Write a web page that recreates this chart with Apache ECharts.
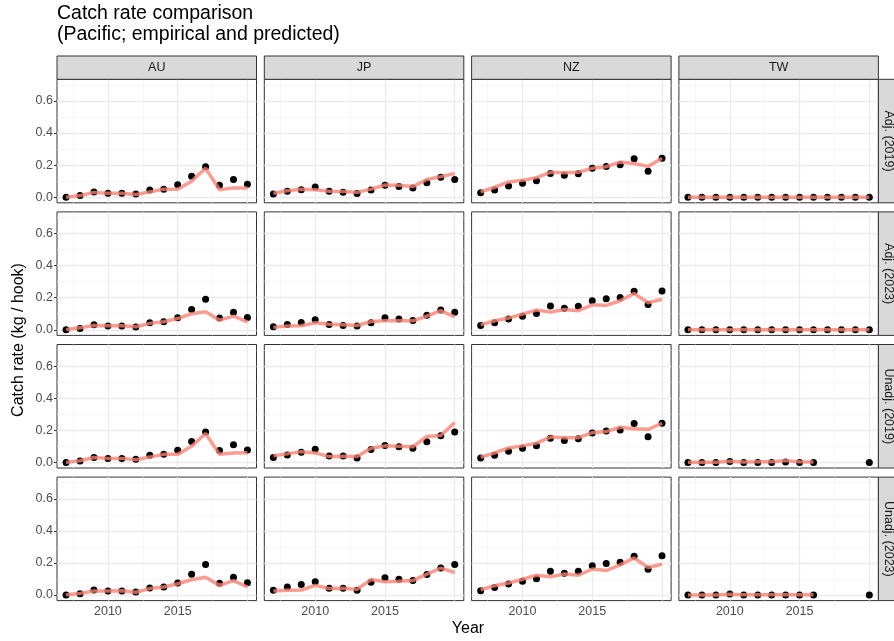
<!DOCTYPE html>
<html>
<head>
<meta charset="utf-8">
<script src="https://cdn.jsdelivr.net/npm/echarts@6/dist/echarts.min.js"></script>
<style>
  html, body { margin: 0; padding: 0; background: #fff; }
  #main { width: 894px; height: 641px; }
</style>
</head>
<body>
<div id="main"></div>
<script>
// facet labels
var fleets = ['AU', 'JP', 'NZ', 'TW'];
var models = ['Adj. (2019)', 'Adj. (2023)', 'Unadj. (2019)', 'Unadj. (2023)'];
var years = [2007, 2008, 2009, 2010, 2011, 2012, 2013, 2014, 2015, 2016, 2017, 2018, 2019, 2020];
var xTicks = [2010, 2015];
var yTicks = [0, 0.2, 0.4, 0.6];

// Adj. (2019)
var auAdj19Obs  = [0.000, 0.010, 0.033, 0.025, 0.025, 0.020, 0.045, 0.050, 0.078, 0.130, 0.190, 0.074, 0.110, 0.080];
var auAdj19Pred = [0.000, 0.010, 0.030, 0.025, 0.025, 0.017, 0.033, 0.050, 0.050, 0.100, 0.180, 0.047, 0.058, 0.058];
var jpAdj19Obs  = [0.020, 0.037, 0.047, 0.064, 0.037, 0.030, 0.023, 0.045, 0.074, 0.066, 0.058, 0.090, 0.124, 0.110];
var jpAdj19Pred = [0.025, 0.040, 0.050, 0.047, 0.037, 0.035, 0.030, 0.050, 0.076, 0.074, 0.066, 0.110, 0.128, 0.148];
var nzAdj19Obs  = [0.027, 0.045, 0.070, 0.087, 0.103, 0.148, 0.136, 0.146, 0.181, 0.192, 0.202, 0.239, 0.161, 0.243];
var nzAdj19Pred = [0.033, 0.062, 0.095, 0.105, 0.122, 0.155, 0.153, 0.155, 0.181, 0.190, 0.219, 0.210, 0.192, 0.243];
var twAdj19Obs  = [0, 0, 0, 0, 0, 0, 0, 0, 0, 0, 0, 0, 0, 0];
var twAdj19Pred = [0, 0, 0, 0, 0, 0, 0, 0, 0, 0, 0, 0, 0, 0];

// Adj. (2023)
var auAdj23Obs  = [0.000, 0.008, 0.031, 0.023, 0.023, 0.017, 0.044, 0.050, 0.075, 0.127, 0.190, 0.073, 0.110, 0.077];
var auAdj23Pred = [0.002, 0.012, 0.027, 0.025, 0.025, 0.019, 0.040, 0.050, 0.070, 0.100, 0.112, 0.060, 0.085, 0.050];
var jpAdj23Obs  = [0.019, 0.033, 0.046, 0.063, 0.033, 0.027, 0.023, 0.044, 0.075, 0.067, 0.058, 0.090, 0.123, 0.110];
var jpAdj23Pred = [0.015, 0.023, 0.025, 0.044, 0.035, 0.031, 0.027, 0.052, 0.056, 0.056, 0.056, 0.085, 0.119, 0.081];
var nzAdj23Obs  = [0.027, 0.044, 0.067, 0.085, 0.102, 0.148, 0.135, 0.146, 0.181, 0.194, 0.202, 0.240, 0.158, 0.242];
var nzAdj23Pred = [0.031, 0.056, 0.073, 0.098, 0.123, 0.110, 0.127, 0.119, 0.156, 0.152, 0.181, 0.227, 0.169, 0.190];
var twAdj23Obs  = [0, 0, 0, 0, 0, 0, 0, 0, 0, 0, 0, 0, 0, 0];
var twAdj23Pred = [0, 0, 0, 0, 0, 0, 0, 0, 0, 0, 0, 0, 0, 0];

// Unadj. (2019)
var auUn19Obs  = [0.000, 0.008, 0.031, 0.025, 0.025, 0.019, 0.044, 0.050, 0.076, 0.130, 0.190, 0.074, 0.110, 0.077];
var auUn19Pred = [0.000, 0.010, 0.030, 0.025, 0.025, 0.017, 0.033, 0.050, 0.050, 0.100, 0.180, 0.050, 0.058, 0.060];
var jpUn19Obs  = [0.030, 0.046, 0.063, 0.082, 0.040, 0.040, 0.027, 0.080, 0.105, 0.097, 0.088, 0.128, 0.166, 0.190];
var jpUn19Pred = [0.042, 0.053, 0.067, 0.059, 0.036, 0.038, 0.036, 0.088, 0.103, 0.100, 0.097, 0.162, 0.168, 0.248];
var nzUn19Obs  = [0.027, 0.044, 0.070, 0.088, 0.103, 0.150, 0.137, 0.147, 0.183, 0.196, 0.202, 0.242, 0.160, 0.244];
var nzUn19Pred = [0.032, 0.059, 0.090, 0.103, 0.120, 0.158, 0.154, 0.154, 0.185, 0.192, 0.219, 0.210, 0.206, 0.244];
var twUn19Obs  = [0, 0, 0, 0.006, 0, 0, 0, 0.002, 0, 0, null, null, null, 0];
var twUn19Pred = [0.001, 0.001, 0.001, 0.007, 0.003, 0.004, 0.004, 0.011, 0.004, 0.002, null, null, null, null];

// Unadj. (2023)
var auUn23Obs  = [0.000, 0.008, 0.031, 0.025, 0.025, 0.019, 0.044, 0.050, 0.075, 0.130, 0.190, 0.073, 0.110, 0.077];
var auUn23Pred = [0.002, 0.010, 0.025, 0.025, 0.027, 0.017, 0.040, 0.050, 0.070, 0.095, 0.110, 0.060, 0.090, 0.050];
var jpUn23Obs  = [0.030, 0.050, 0.065, 0.083, 0.042, 0.042, 0.030, 0.080, 0.108, 0.098, 0.090, 0.127, 0.169, 0.190];
var jpUn23Pred = [0.025, 0.030, 0.031, 0.060, 0.040, 0.042, 0.035, 0.096, 0.083, 0.085, 0.090, 0.130, 0.167, 0.140];
var nzUn23Obs  = [0.027, 0.046, 0.069, 0.085, 0.102, 0.148, 0.135, 0.148, 0.183, 0.196, 0.204, 0.242, 0.160, 0.244];
var nzUn23Pred = [0.033, 0.058, 0.075, 0.098, 0.123, 0.113, 0.131, 0.123, 0.162, 0.152, 0.188, 0.231, 0.171, 0.192];
var twUn23Obs  = [0, 0, 0, 0.006, 0, 0, 0, 0, 0, 0, null, null, null, 0];
var twUn23Pred = [0, 0, 0, 0.004, 0.001, 0.001, 0.001, 0.001, 0.001, 0.001, null, null, null, null];

// panels[row][col] = [observed, predicted]
var panels = [
  [[auAdj19Obs, auAdj19Pred], [jpAdj19Obs, jpAdj19Pred], [nzAdj19Obs, nzAdj19Pred], [twAdj19Obs, twAdj19Pred]],
  [[auAdj23Obs, auAdj23Pred], [jpAdj23Obs, jpAdj23Pred], [nzAdj23Obs, nzAdj23Pred], [twAdj23Obs, twAdj23Pred]],
  [[auUn19Obs, auUn19Pred], [jpUn19Obs, jpUn19Pred], [nzUn19Obs, nzUn19Pred], [twUn19Obs, twUn19Pred]],
  [[auUn23Obs, auUn23Pred], [jpUn23Obs, jpUn23Pred], [nzUn23Obs, nzUn23Pred], [twUn23Obs, twUn23Pred]]
];

var FONT = '"Liberation Sans", Arial, Helvetica, sans-serif';
var left0 = 57, top0 = 79.3, colStep = 207.3, rowStep = 132.6;
var pw = 199.5, ph = 123.5;

function pairs(vals) {
  var out = [];
  for (var i = 0; i < years.length; i++) {
    if (vals[i] !== null) out.push([years[i], vals[i]]);
  }
  return out;
}

// background grid lines drawn as mark lines so they sit on the axis scale
var majorStyle = { color: '#EBEBEB', width: 1.3, type: 'solid' };
var minorStyle = { color: '#F4F4F4', width: 0.7, type: 'solid' };
var gridLineData = [];
[2007.5, 2012.5, 2017.5].forEach(function (v) { gridLineData.push({ xAxis: v, lineStyle: minorStyle }); });
[0.1, 0.3, 0.5, 0.7].forEach(function (v) { gridLineData.push({ yAxis: v, lineStyle: minorStyle }); });
[2010, 2015, 2020].forEach(function (v) { gridLineData.push({ xAxis: v, lineStyle: majorStyle }); });
[0, 0.2, 0.4, 0.6].forEach(function (v) { gridLineData.push({ yAxis: v, lineStyle: majorStyle }); });

var grids = [], xAxes = [], yAxes = [], series = [], graphics = [];

for (var r = 0; r < 4; r++) {
  for (var c = 0; c < 4; c++) {
    var k = r * 4 + c;
    var gx = left0 + c * colStep, gy = top0 + r * rowStep;
    grids.push({
      left: gx, top: gy, width: pw, height: ph,
      show: true, backgroundColor: '#fff', borderColor: '#333333', borderWidth: 1
    });
    var bottomRow = (r === 3), firstCol = (c === 0);
    xAxes.push({
      gridIndex: k, type: 'value', min: 2006.35, max: 2020.65,
      axisLine: { show: false },
      splitLine: { show: false },
      axisTick: { show: bottomRow, customValues: xTicks, length: 3, lineStyle: { color: '#333333' } },
      axisLabel: {
        show: bottomRow, customValues: xTicks, margin: 4,
        color: '#4D4D4D', fontSize: 12.5, fontFamily: FONT,
        formatter: function (v) { return String(v); }
      }
    });
    yAxes.push({
      gridIndex: k, type: 'value', min: -0.035, max: 0.735,
      axisLine: { show: false },
      splitLine: { show: false },
      axisTick: { show: firstCol, customValues: yTicks, length: 3, lineStyle: { color: '#333333' } },
      axisLabel: {
        show: firstCol, customValues: yTicks, margin: 4,
        color: '#4D4D4D', fontSize: 12.5, fontFamily: FONT,
        formatter: function (v) { return v.toFixed(1); }
      }
    });

    series.push({
      type: 'line', xAxisIndex: k, yAxisIndex: k, data: [], z: 1, silent: true,
      markLine: { silent: true, z: 1, symbol: 'none', label: { show: false }, animation: false, data: gridLineData }
    });
    series.push({
      type: 'scatter', xAxisIndex: k, yAxisIndex: k, z: 3,
      symbolSize: 7, itemStyle: { color: '#000', opacity: 1 },
      data: pairs(panels[r][c][0])
    });
    series.push({
      type: 'line', xAxisIndex: k, yAxisIndex: k, z: 4,
      showSymbol: false, symbol: 'none',
      lineStyle: { color: '#FA8072', width: 3.5, opacity: 0.78 },
      data: pairs(panels[r][c][1])
    });
  }
}

// column strips
for (var c2 = 0; c2 < 4; c2++) {
  var sx = left0 + c2 * colStep;
  graphics.push({ type: 'rect', shape: { x: sx, y: 56, width: pw, height: top0 - 56 },
    style: { fill: '#D9D9D9', stroke: '#333333', lineWidth: 1 }, z: 10 });
  graphics.push({ type: 'text', x: sx + pw / 2, y: 68, z: 11,
    style: { text: fleets[c2], textAlign: 'center', textVerticalAlign: 'middle',
      fill: '#1A1A1A', font: '12.5px ' + FONT } });
}
// row strips
var stripX = left0 + 3 * colStep + pw;
for (var r2 = 0; r2 < 4; r2++) {
  var sy = top0 + r2 * rowStep;
  graphics.push({ type: 'rect', shape: { x: stripX, y: sy, width: 24, height: ph },
    style: { fill: '#D9D9D9', stroke: '#333333', lineWidth: 1 }, z: 10 });
  graphics.push({ type: 'text', x: stripX + 10, y: sy + ph / 2, rotation: -Math.PI / 2, z: 11,
    style: { text: models[r2], textAlign: 'center', textVerticalAlign: 'middle',
      fill: '#1A1A1A', font: '12.5px ' + FONT } });
}
// axis titles
graphics.push({ type: 'text', x: 19, y: 340, rotation: Math.PI / 2,
  style: { text: 'Catch rate (kg / hook)', textAlign: 'center', textVerticalAlign: 'middle',
    fill: '#000', font: '16px ' + FONT } });
graphics.push({ type: 'text', x: 468, y: 629,
  style: { text: 'Year', textAlign: 'center', textVerticalAlign: 'middle',
    fill: '#000', font: '16px ' + FONT } });

var chart = echarts.init(document.getElementById('main'), null, { renderer: 'canvas' });
chart.setOption({
  animation: false,
  backgroundColor: '#fff',
  title: {
    text: 'Catch rate comparison\n(Pacific; empirical and predicted)',
    left: 52, top: 3, padding: [0, 5],
    textStyle: { fontSize: 19.5, lineHeight: 21, fontWeight: 'normal', color: '#000', fontFamily: FONT }
  },
  grid: grids,
  xAxis: xAxes,
  yAxis: yAxes,
  series: series,
  graphic: graphics
});
</script>
</body>
</html>
